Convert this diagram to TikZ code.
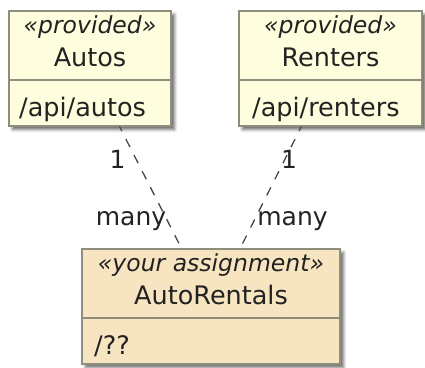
\documentclass[tikz,border=0pt]{standalone}
\usepackage{fontspec}
\setmainfont{DejaVu Sans}
\usetikzlibrary{shadows.blur}
\definecolor{provfill}{HTML}{FEFEDE}
\definecolor{assignfill}{HTML}{F7E5C1}
\definecolor{boxline}{HTML}{8E8E7C}
\definecolor{linkcol}{HTML}{484848}
\definecolor{txt}{HTML}{222222}
\begin{document}
\begin{tikzpicture}[x=1pt,y=-1pt,
  classbox/.style={draw=boxline, line width=1.1pt, rectangle, inner sep=0pt,
    blur shadow={shadow xshift=3.5pt, shadow yshift=-3.5pt, shadow blur radius=3pt, shadow opacity=60}},
  sepline/.style={draw=boxline, line width=1.1pt},
  stereo/.style={font=\fontsize{23.5}{28}\selectfont\itshape, text=txt, anchor=base, inner sep=0pt},
  cname/.style={font=\fontsize{25.5}{30}\selectfont, text=txt, anchor=base, inner sep=0pt},
  field/.style={font=\fontsize{25.5}{30}\selectfont, text=txt, anchor=base west, inner sep=0pt},
  mult/.style={font=\fontsize{25}{30}\selectfont, text=txt, anchor=base, inner sep=0pt},
  link/.style={draw=linkcol, line width=1.3pt, dash pattern=on 9pt off 9pt, dash phase=4pt}]
\path[use as bounding box] (0,0) rectangle (425,367);
% class boxes
\node[classbox, fill=provfill, minimum width=162pt, minimum height=115pt] (autos) at (90,68.5) {};
\node[classbox, fill=provfill, minimum width=183pt, minimum height=115pt] (renters) at (330.5,68.5) {};
\node[classbox, fill=assignfill, minimum width=258pt, minimum height=115pt] (ar) at (211,306.5) {};
% compartment separators
\draw[sepline] (9,80) -- (171,80);
\draw[sepline] (239,80) -- (422,80);
\draw[sepline] (82,318) -- (340,318);
% texts
\node[stereo] (autosst) at (90,33) {«provided»};
\node[cname] (autosnm) at (90,66) {Autos};
\node[field] (autosfd) at (19,116) {/api/autos};
\node[stereo] (rentst) at (330.5,33) {«provided»};
\node[cname] (rentnm) at (330.5,66) {Renters};
\node[field] (rentfd) at (252,116) {/api/renters};
\node[stereo] (arst) at (211,271) {«your assignment»};
\node[cname] (arnm) at (211,304) {AutoRentals};
\node[field] (arfd) at (94,354) {/??};
% connectors
\draw[link] (autos) -- (ar);
\draw[link] (renters) -- (ar);
% multiplicities
\node[mult] (m1) at (117.5,168) {1};
\node[mult] (m2) at (289,168) {1};
\node[mult] (m3) at (131,225) {many};
\node[mult] (m4) at (292.5,225) {many};
\end{tikzpicture}
\end{document}
